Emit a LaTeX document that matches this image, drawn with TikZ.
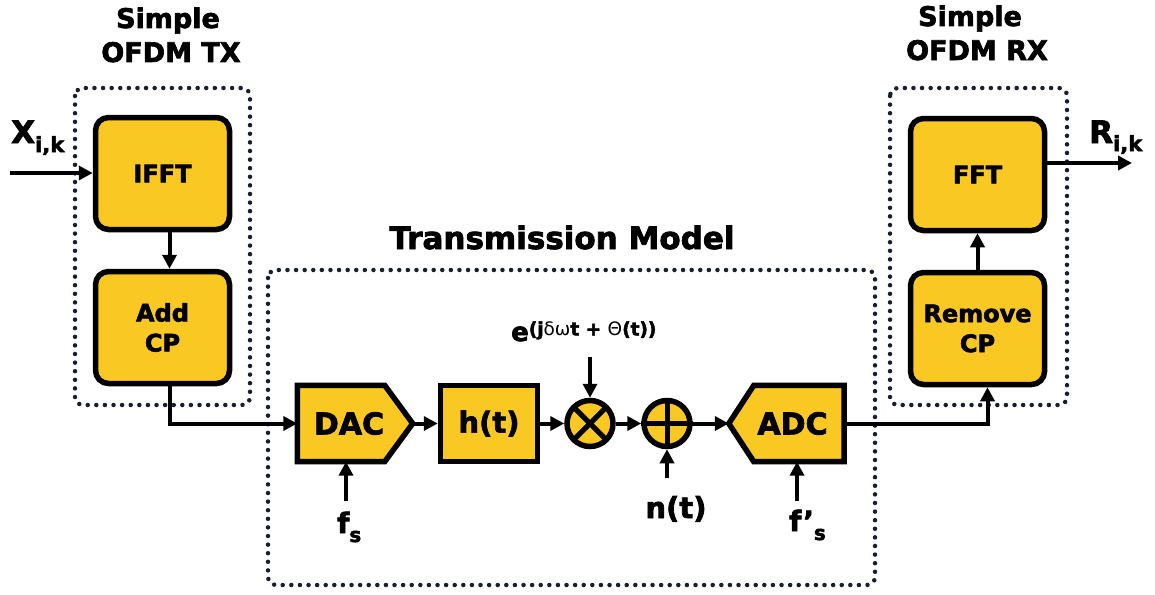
\documentclass[tikz,border=0pt]{standalone}
\usepackage{fontspec}
\setmainfont{DejaVu Sans}[BoldFeatures={FakeBold=2.4}]
\usetikzlibrary{arrows.meta,calc}
\definecolor{blkfill}{RGB}{249,200,35}
\definecolor{dotcol}{RGB}{25,30,45}
\tikzset{
  blk/.style={draw=black,fill=blkfill,line width=5.5pt,rounded corners=13pt,minimum width=134pt,minimum height=112pt,inner sep=0pt,align=center,font=\fontsize{24}{30}\selectfont\bfseries},
  sq/.style={draw=black,fill=blkfill,line width=5.5pt,minimum width=97pt,minimum height=76pt,inner sep=0pt,font=\fontsize{29}{30}\selectfont\bfseries},
  ghost/.style={minimum width=115pt,minimum height=76pt,inner sep=0pt},
  shapeline/.style={fill=blkfill,draw=black,line width=5.5pt,line join=miter},
  bigtxt/.style={font=\fontsize{30}{30}\selectfont\bfseries,inner sep=0pt},
  circ/.style={circle,draw=black,fill=blkfill,line width=5.5pt,minimum size=46pt,inner sep=0pt},
  dotbox/.style={draw=dotcol,line width=4.5pt,line cap=round,dash pattern=on 0pt off 8.6pt,rounded corners=8pt},
  conn/.style={line width=4pt,-{Triangle[length=14pt,width=14pt]}},
  ttl/.style={anchor=base,inner sep=0pt,font=\fontsize{27}{34}\selectfont\bfseries},
  lbl/.style={anchor=base west,inner sep=0pt,font=\fontsize{28}{30}\selectfont\bfseries},
}
\newcommand{\lowsub}[3]{\raisebox{-#1}{\fontsize{#2}{#2}\selectfont #3}}
\begin{document}
\begin{tikzpicture}[x=1pt,y=-1pt]
\useasboundingbox (0,0) rectangle (1155,594);
% dotted group boxes
\draw[dotbox] (75,88) rectangle (250,405);
\draw[dotbox] (268,270) rectangle (875,585);
\draw[dotbox] (890,88) rectangle (1067,405);
% titles
\node[ttl] (ttx1) at (168,28) {Simple};
\node[ttl] (ttx2) at (171,62) {OFDM TX};
\node[ttl] (trx1) at (970,26) {Simple};
\node[ttl] (trx2) at (977,60) {OFDM RX};
\node[ttl,font=\fontsize{31}{34}\selectfont\bfseries] (tmod) at (562,249) {Transmission Model};
% TX blocks
\node[blk] (ifft) at (162.5,173.5) {IFFT};
\node[blk] (acp) at (162.5,327.5) {Add\\CP};
% RX blocks
\node[blk] (fft) at (977.5,174.5) {FFT};
\node[blk] (rcp) at (977.5,328.5) {Remove\\CP};
% DAC (pointed to east)
\node[ghost] (dac) at (355,423.5) {};
\filldraw[shapeline]
  (dac.north west) -- ([xshift=-28pt]dac.north east) -- (dac.east) -- ([xshift=-28pt]dac.south east) -- (dac.south west) -- cycle;
\node[bigtxt] (dact) at ([xshift=-6pt]dac.center) {DAC};
% h(t)
\node[sq] (h) at (489,423.5) {h(t)};
% multiplier and adder
\node[circ] (mul) at (590,423.5) {};
\draw[line width=5pt] ([shift=(45:23pt)]mul.center) -- ([shift=(225:23pt)]mul.center)
                      ([shift=(135:23pt)]mul.center) -- ([shift=(315:23pt)]mul.center);
\node[circ] (add) at (667,423.5) {};
\draw[line width=5pt] (add.north) -- (add.south) (add.west) -- (add.east);
% ADC (pointed to west)
\node[ghost] (adc) at (786.5,423.5) {};
\filldraw[shapeline]
  (adc.north east) -- ([xshift=25pt]adc.north west) -- (adc.west) -- ([xshift=25pt]adc.south west) -- (adc.south east) -- cycle;
\node[bigtxt] (adct) at ([xshift=6pt]adc.center) {ADC};
% labels
\node[lbl,font=\fontsize{31}{30}\selectfont\bfseries] (xin) at (11,143) {X\lowsub{9pt}{21}{i,k}};
\node[lbl,font=\fontsize{31}{30}\selectfont\bfseries] (rout) at (1089,143) {R\lowsub{8pt}{21}{i,k}};
\node[lbl] (fs) at (337,533) {f\lowsub{9pt}{20}{s}};
\node[lbl] (fps) at (789,531) {f’\lowsub{9pt}{20}{s}};
\node[lbl,anchor=base,font=\fontsize{29}{30}\selectfont\bfseries] (nt) at (676,518) {n(t)};
\node[lbl,font=\fontsize{26}{30}\selectfont\bfseries] (ex) at (511,341)
  {e\raisebox{5.5pt}{\fontsize{18.5}{18}\selectfont (j{\mdseries δω}t + {\mdseries Θ}(t))}};
% connector endpoints
\coordinate (xs) at (10,173);
\coordinate (rs) at (1132,163);
\coordinate (es) at (590,357);
\coordinate (ns) at (667,478);
\coordinate (fss) at (346,501);
\coordinate (fpss) at (797,501);
% connectors
\draw[conn] (xs) -- (xs -| ifft.west);
\draw[conn] ([xshift=7pt]ifft.south) -- ([xshift=7pt]acp.north);
\draw[conn] ([xshift=7pt]acp.south) |- (dac.west);
\draw[conn] (dac.east) -- (h.west);
\draw[conn] (h.east) -- (mul.west);
\draw[conn] (es) -- (mul.north);
\draw[conn] (mul.east) -- (add.west);
\draw[conn] (ns) -- (add.south);
\draw[conn] (add.east) -- (adc.west);
\draw[conn] (fss) -- (fss |- dac.south);
\draw[conn] (fpss) -- (fpss |- adc.south);
\draw[conn] (adc.east) -| ([xshift=10pt]rcp.south);
\draw[conn] (rcp.north) -- (fft.south);
\draw[conn] (fft.east |- rs) -- (rs);
\end{tikzpicture}
\end{document}
